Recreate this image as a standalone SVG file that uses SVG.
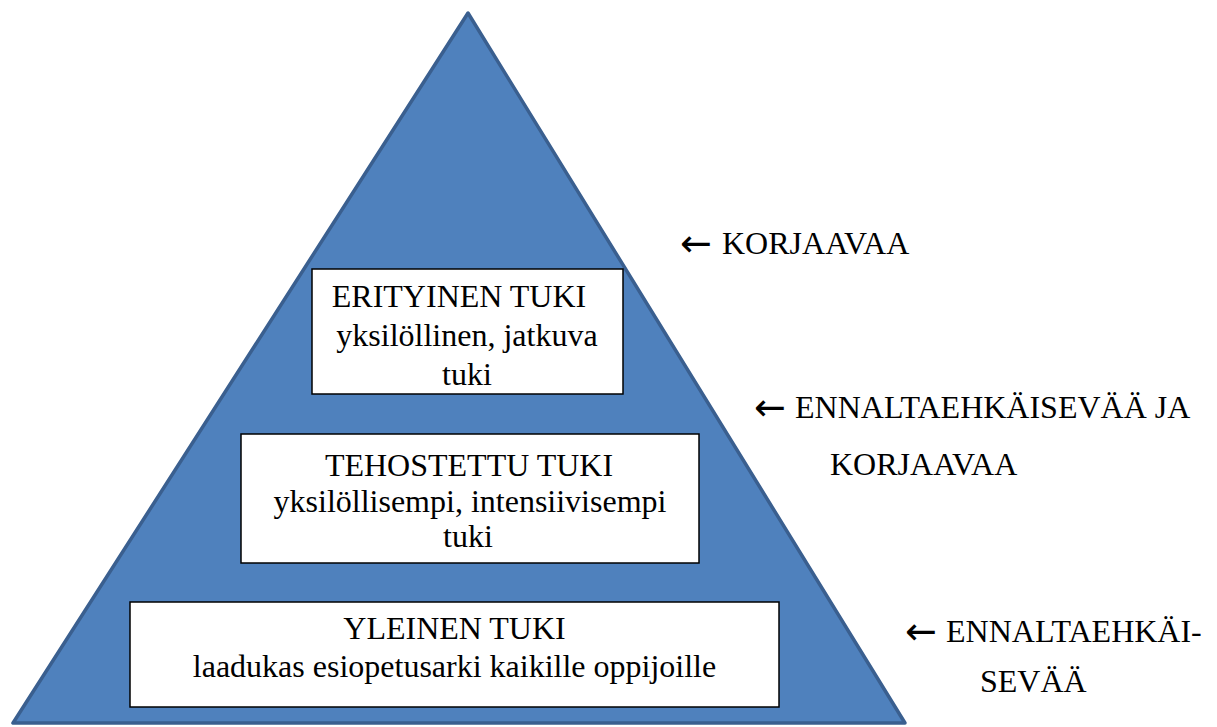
<svg xmlns="http://www.w3.org/2000/svg" width="1217" height="727" viewBox="0 0 1217 727">
<style>
.box{fill:#fff;stroke:#000;stroke-width:1.5}
.tx{font-family:'Liberation Serif','Tinos','Times New Roman','DejaVu Serif',serif;font-size:32px;fill:#000}
.ar{font-family:'DejaVu Sans','Noto Sans',sans-serif;font-size:38px}
</style>
<rect width="1217" height="727" fill="#fff"/>
<g id="pyramid">
<polygon points="468,13 13,723 905,723" fill="#4f81bd" stroke="#3a5f8f" stroke-width="3.5" stroke-linejoin="round"/>
</g>
<g class="tx">
<g id="erityinen" text-anchor="middle">
<rect class="box" x="312" y="269" width="311" height="125"/>
<text x="459" y="307">ERITYINEN TUKI</text>
<text x="467" y="346">yksilöllinen, jatkuva</text>
<text x="467" y="385">tuki</text>
</g>
<g id="tehostettu" text-anchor="middle">
<rect class="box" x="241" y="434" width="458" height="129"/>
<text x="469" y="476">TEHOSTETTU TUKI</text>
<text x="470" y="512">yksilöllisempi, intensiivisempi</text>
<text x="468" y="547">tuki</text>
</g>
<g id="yleinen" text-anchor="middle">
<rect class="box" x="130" y="602" width="649" height="105"/>
<text x="454.5" y="639">YLEINEN TUKI</text>
<text x="454.5" y="677">laadukas esiopetusarki kaikille oppijoille</text>
</g>
<g id="labels">
<text y="254"><tspan class="ar" x="680" dy="2">←</tspan><tspan x="722" dy="-2">KORJAAVAA</tspan></text>
<text y="418"><tspan class="ar" x="754" dy="2">←</tspan><tspan x="795" dy="-2">ENNALTAEHKÄISEVÄÄ JA</tspan></text>
<text x="830" y="475">KORJAAVAA</text>
<text y="642"><tspan class="ar" x="905" dy="2">←</tspan><tspan x="946" dy="-2">ENNALTAEHKÄI-</tspan></text>
<text x="980" y="692">SEVÄÄ</text>
</g>
</g>
<g id="connectors"/>
</svg>
